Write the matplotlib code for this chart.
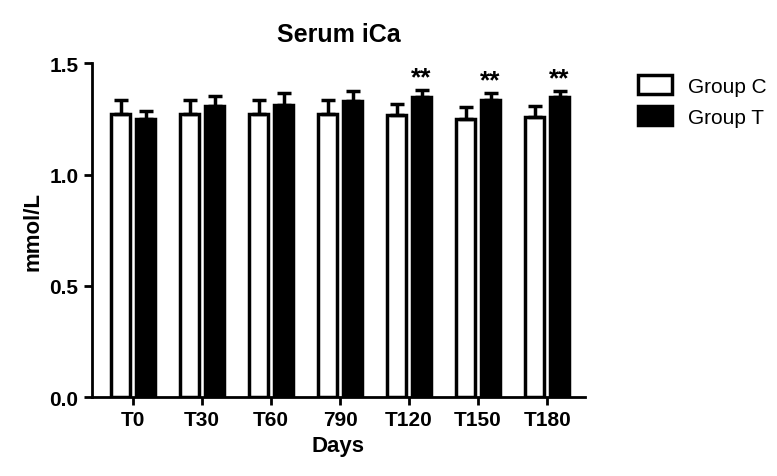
import numpy as np
import matplotlib
matplotlib.use("Agg")
import matplotlib.pyplot as plt

days = ["T0", "T30", "T60", "790", "T120", "T150", "T180"]
group_c = [1.274, 1.274, 1.274, 1.274, 1.267, 1.252, 1.260]
group_c_err = [0.06, 0.06, 0.06, 0.06, 0.05, 0.05, 0.05]
group_t = [1.252, 1.308, 1.315, 1.329, 1.348, 1.336, 1.348]
group_t_err = [0.035, 0.045, 0.05, 0.046, 0.033, 0.03, 0.027]
signif = ["", "", "", "", "**", "**", "**"]

plt.rcParams["font.family"] = ["Liberation Sans", "DejaVu Sans"]
plt.rcParams["font.weight"] = "bold"

fig = plt.figure(figsize=(7.77, 4.77), dpi=100)
ax = fig.add_axes([0.118, 0.165, 0.635, 0.70])

x = np.arange(len(days))
w = 0.28
gap = 0.04
ekw = dict(elinewidth=2.5, capthick=2.5, capsize=5, ecolor="black")
ax.bar(x - w / 2 - gap, group_c, w, color="white", edgecolor="black", linewidth=2.5,
       yerr=[np.zeros(len(days)), group_c_err], error_kw=ekw, label="Group C")
ax.bar(x + w / 2 + gap, group_t, w, color="black", edgecolor="black", linewidth=2.5,
       yerr=[np.zeros(len(days)), group_t_err], error_kw=ekw, label="Group T")
for xi, v, e, s in zip(x, group_t, group_t_err, signif):
    if s:
        ax.text(xi + w / 2 + gap, v + e + 0.003, s, ha="center", va="bottom",
                fontsize=19, fontweight="bold")

ax.set_xlim(-0.6, 6.55)
ax.set_ylim(0, 1.5)
ax.set_yticks([0.0, 0.5, 1.0, 1.5])
ax.set_xticks(x)
ax.set_xticklabels(days)
ax.spines["top"].set_visible(False)
ax.spines["right"].set_visible(False)
for sp in ("left", "bottom"):
    ax.spines[sp].set_linewidth(2)
ax.tick_params(width=2, length=6, labelsize=15)
ax.set_xlabel("Days", fontsize=16, fontweight="bold")
ax.set_ylabel("mmol/L", fontsize=16, fontweight="bold")
ax.set_title("Serum iCa", fontsize=18, fontweight="bold", pad=16)
leg = ax.legend(loc="upper left", bbox_to_anchor=(1.07, 1.02), frameon=False,
                fontsize=15, handlelength=1.6, handleheight=1.0)
for t in leg.get_texts():
    t.set_fontweight("normal")

fig.savefig("out.png", dpi=100)
